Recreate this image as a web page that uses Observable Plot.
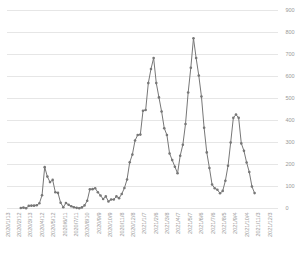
<!DOCTYPE html>
<html><head><meta charset="utf-8">
<script src="https://cdn.jsdelivr.net/npm/d3@7"></script>
<script src="https://cdn.jsdelivr.net/npm/@observablehq/plot@0.6"></script>
<style>body{margin:0;background:#fff}</style>
</head><body><div id="chart"></div>
<script>
// weekly series starting 2020-02-16
const startDate = "2020-02-16";
const values = [2,4,1,12,13,13,15,24,60,188,145,120,130,74,71,26,6,25,17,10,6,3,1,5,14,35,87,88,92,74,59,43,55,32,41,41,55,47,66,93,132,210,245,309,334,336,444,448,570,634,684,570,505,441,365,334,250,220,190,160,240,290,384,527,640,774,684,604,509,367,255,184,109,92,85,69,80,126,194,300,412,427,412,296,262,209,166,100,70];
const xTickLabels = ["2020-01-13","2020-02-12","2020-03-13","2020-04-12","2020-05-12","2020-06-11","2020-07-11","2020-08-10","2020-09-09","2020-10-09","2020-11-08","2020-12-08","2021-01-07","2021-02-06","2021-03-08","2021-04-07","2021-05-07","2021-06-06","2021-07-06","2021-08-05","2021-09-04","2021-10-04","2021-11-03","2021-12-03"];
const yTicks = [0,100,200,300,400,500,600,700,800,900];

const s0 = new Date(startDate);
const data = values.map((v, i) => ({date: d3.utcDay.offset(s0, 7 * i), value: v}));
const xTicks = xTickLabels.map(d => new Date(d));
const fmt = d => `${d.getUTCFullYear()}/${d.getUTCMonth() + 1}/${d.getUTCDate()}`;

const chart = Plot.plot({
  width: 300, height: 259,
  marginLeft: 7, marginRight: 22, marginTop: 10, marginBottom: 51,
  style: {fontFamily: "'Liberation Sans', Arial, sans-serif", fontSize: "5.5px", color: "#999", background: "#fff"},
  x: {type: "utc", domain: [new Date("2020-01-12"), new Date("2021-12-26")]},
  y: {domain: [0, 900]},
  marks: [
    Plot.gridY(yTicks, {stroke: "#e6e6e6", strokeOpacity: 1, strokeWidth: 1}),
    Plot.axisY(yTicks, {anchor: "right", tickSize: 0, tickPadding: 7, textAnchor: "start", label: null, fill: "#999"}),
    Plot.axisX(xTicks, {tickSize: 0, tickPadding: 4, tickRotate: -90, tickFormat: fmt, label: null, fill: "#999"}),
    Plot.line(data, {x: "date", y: "value", stroke: "#777", strokeWidth: 1}),
    Plot.dot(data, {x: "date", y: "value", r: 1.3, fill: "#777", stroke: "none"})
  ]
});
document.getElementById("chart").appendChild(chart);
</script>
</body></html>
